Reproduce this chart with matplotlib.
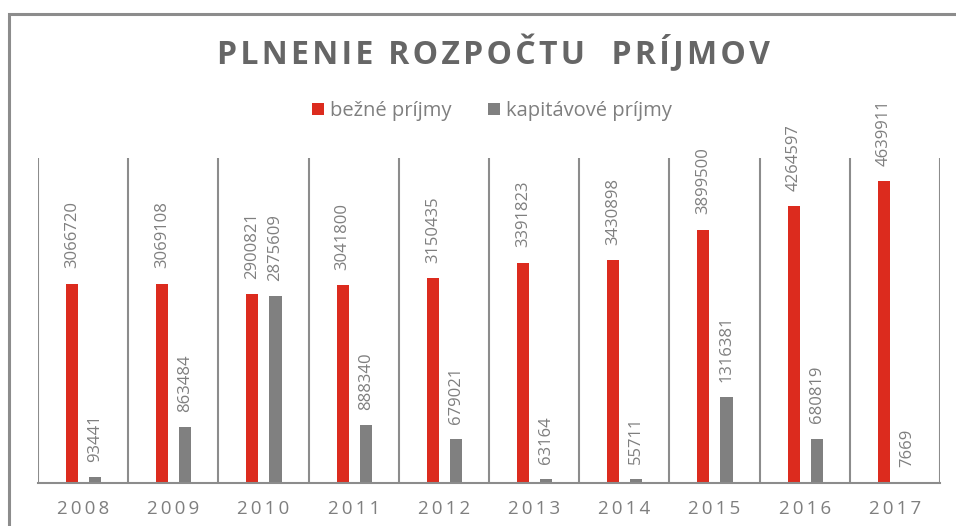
import matplotlib.pyplot as plt
from matplotlib.patches import Rectangle

plt.rcParams['font.family'] = ['Open Sans', 'DejaVu Sans']

roky = ['2008', '2009', '2010', '2011', '2012', '2013', '2014', '2015', '2016', '2017']
bezne = [3066720, 3069108, 2900821, 3041800, 3150435, 3391823, 3430898, 3899500, 4264597, 4639911]
kapitalove = [93441, 863484, 2875609, 888340, 679021, 63164, 55711, 1316381, 680819, 7669]

red = '#dc2b1e'
gray = '#808080'
txt = '#7f7f7f'

fig = plt.figure(figsize=(9.56, 5.26), dpi=100)
# outer frame (only top and left edges visible in the reference)
fig.add_artist(Rectangle((9 / 956, -0.1), 1.2, 1 - 14 / 526 + 0.1, transform=fig.transFigure,
                         fill=False, edgecolor='#8c8c8c', linewidth=2.2))

ax = fig.add_axes([38 / 956, 43 / 526, 902 / 956, 325 / 526])
x = list(range(len(roky)))
w = 0.135
b1 = ax.bar([i - 0.123 for i in x], bezne, w, color=red, label='bežné príjmy')
b2 = ax.bar([i + 0.133 for i in x], kapitalove, w, color=gray, label='kapitávové príjmy')

for bars, vals in ((b1, bezne), (b2, kapitalove)):
    for rect, v in zip(bars, vals):
        ax.annotate(str(v), (rect.get_x() + rect.get_width() / 2, v),
                    xytext=(0, 11), textcoords='offset points', rotation=90,
                    ha='center', va='bottom', fontsize=12, color=txt,
                    annotation_clip=False)

ax.set_xlim(-0.5, len(roky) - 0.5)
ax.set_ylim(0, 5000000)
for k in range(len(roky) + 1):
    ax.axvline(k - 0.5, color='#8c8c8c', linewidth=1.5, zorder=0)

ax.set_yticks([])
ax.set_xticks(x)
ax.set_xticklabels(['\u2009'.join(r) for r in roky], fontsize=13.5, color=txt)
ax.tick_params(axis='x', length=0, pad=12)
for s in ('top', 'left', 'right'):
    ax.spines[s].set_visible(False)
ax.spines['bottom'].set_color('#8c8c8c')
ax.spines['bottom'].set_linewidth(1.5)

fig.text(493 / 956, 1 - 53 / 526, '\u200a'.join('PLNENIE ROZPOČTU  PRÍJMOV'),
         ha='center', va='center', fontsize=23, fontweight='bold', color='#666666')

fig.legend(handles=[b1, b2], loc='center', bbox_to_anchor=(492 / 956, 1 - 111 / 526),
           ncol=2, frameon=False, fontsize=14.5, labelcolor=txt,
           handlelength=0.6, handleheight=0.6, handletextpad=0.3, columnspacing=1.8)

fig.savefig('out.png', dpi=100)
